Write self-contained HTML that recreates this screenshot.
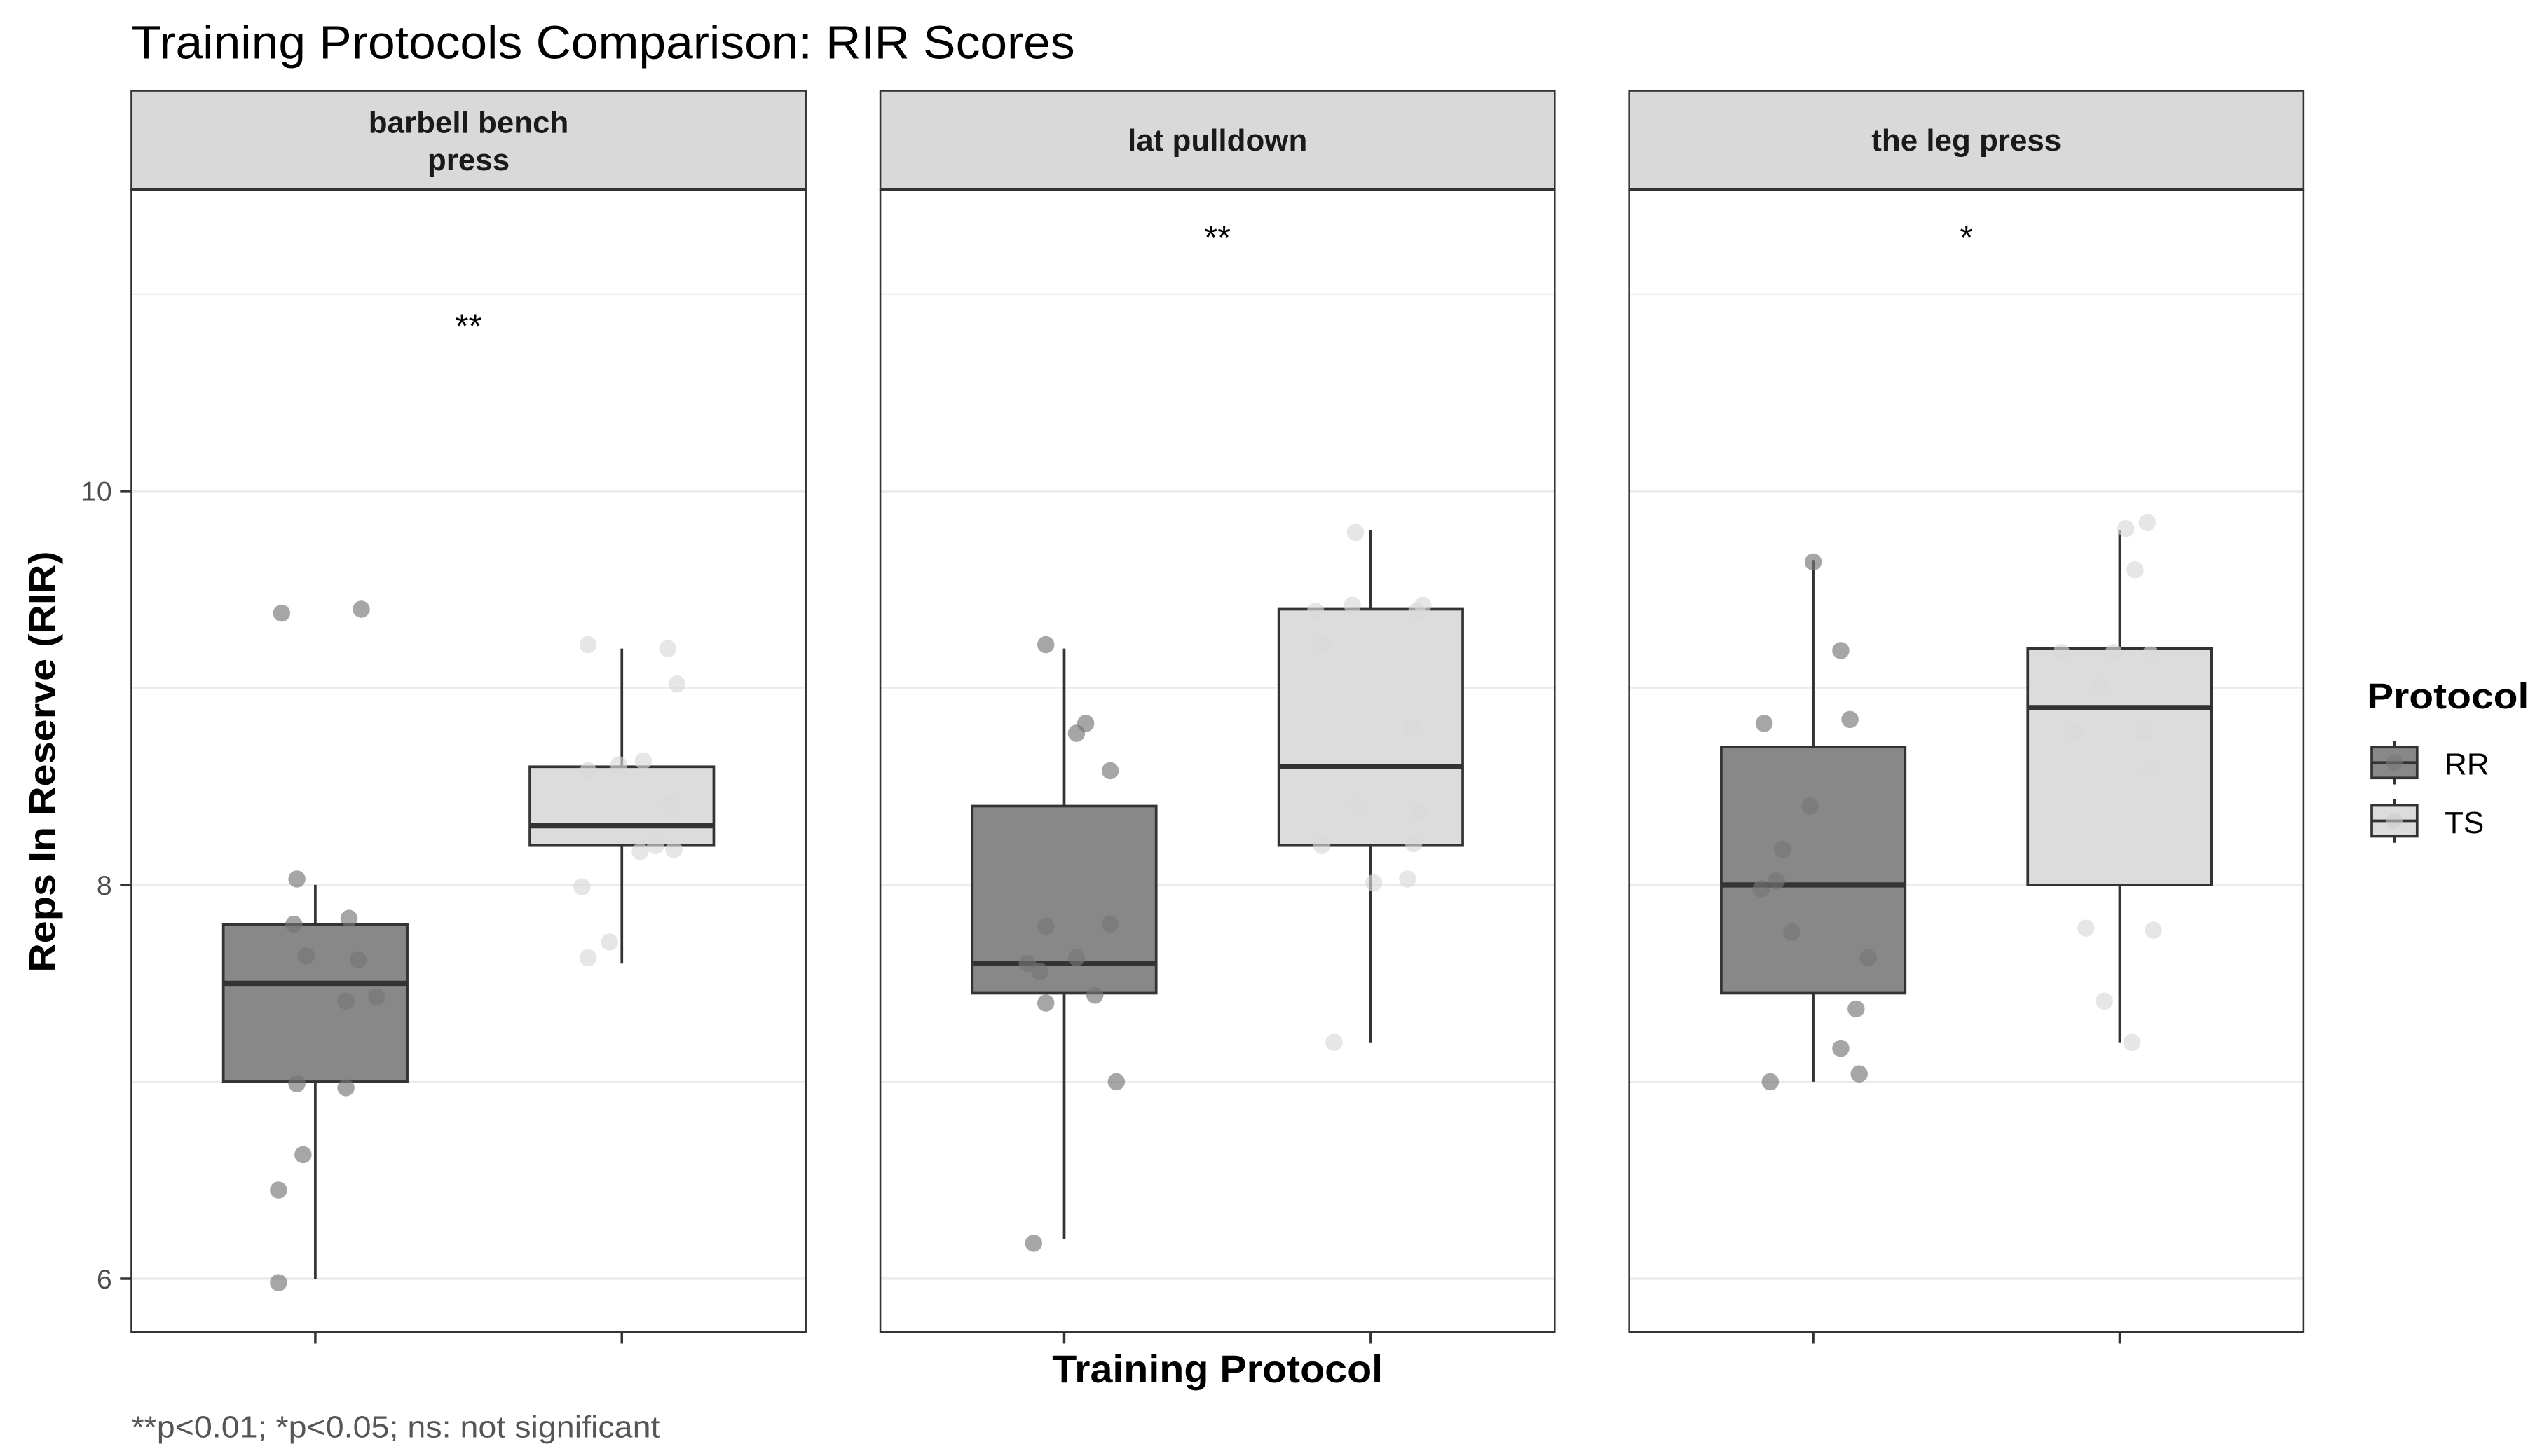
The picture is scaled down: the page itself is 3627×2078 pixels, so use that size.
<!DOCTYPE html>
<html><head><meta charset="utf-8"><style>
html,body{margin:0;padding:0;background:#fff;}
svg{display:block;font-family:"Liberation Sans",Arial,sans-serif;}
</style></head><body>
<svg id="chart" width="3627" height="2078" viewBox="0 0 1568 898.4" xmlns="http://www.w3.org/2000/svg">
<text x="81" y="36" font-size="29" textLength="582" lengthAdjust="spacingAndGlyphs" fill="#000">Training Protocols Comparison: RIR Scores</text>
<g id="panels"></g>
<text transform="translate(34,470) rotate(-90)" text-anchor="middle" font-size="23" font-weight="bold" textLength="260" lengthAdjust="spacingAndGlyphs" fill="#000">Reps In Reserve (RIR)</text>
<text x="751" y="853" text-anchor="middle" font-size="24" font-weight="bold" textLength="204" lengthAdjust="spacingAndGlyphs" fill="#000">Training Protocol</text>
<g>
<text x="1460" y="437" font-size="22" font-weight="bold" textLength="100" lengthAdjust="spacingAndGlyphs" fill="#000">Protocol</text>
<g>
<line x1="1477" y1="457" x2="1477" y2="484" stroke="#333" stroke-width="1.5"/>
<rect x="1463" y="461" width="28" height="19" fill="#888" stroke="#333" stroke-width="1.6"/>
<line x1="1463" y1="470.5" x2="1491" y2="470.5" stroke="#333" stroke-width="1.6"/>
<circle cx="1477" cy="470.5" r="5" fill="#777" opacity="0.6"/>
<text x="1508" y="478" font-size="19" fill="#000">RR</text>
</g>
<g>
<line x1="1477" y1="493" x2="1477" y2="520" stroke="#333" stroke-width="1.5"/>
<rect x="1463" y="497" width="28" height="19" fill="#dcdcdc" stroke="#333" stroke-width="1.6"/>
<line x1="1463" y1="506.5" x2="1491" y2="506.5" stroke="#333" stroke-width="1.6"/>
<circle cx="1477" cy="506.5" r="5" fill="#ccc" opacity="0.6"/>
<text x="1508" y="514" font-size="19" fill="#000">TS</text>
</g>
</g>
<text x="81" y="887" font-size="19" textLength="326" lengthAdjust="spacingAndGlyphs" fill="#555">**p&lt;0.01; *p&lt;0.05; ns: not significant</text>
</svg>
<script>
const exercises = ["barbell bench\npress", "lat pulldown", "the leg press"];
const groups = ["RR", "TS"];
const signif = ["**", "**", "*"];
const signifY = [10.88, 11.33, 11.33];
const yTicks = [6, 8, 10];
const yGrid = [6, 7, 8, 9, 10, 11];
// box stats per exercise per group: [lowWhisker, q1, median, q3, highWhisker]
const boxRR = [[6.0, 7.0, 7.5, 7.8, 8.0], [6.2, 7.45, 7.6, 8.4, 9.2], [7.0, 7.45, 8.0, 8.7, 9.65]];
const boxTS = [[7.6, 8.2, 8.3, 8.6, 9.2], [7.2, 8.2, 8.6, 9.4, 9.8], [7.2, 8.0, 8.9, 9.2, 9.8]];
// points: values and jitter (category units)
const ptsRRy = [
 [9.38, 9.40, 8.03, 7.80, 7.83, 7.64, 7.62, 7.41, 7.43, 6.99, 6.97, 6.63, 6.45, 5.98],
 [9.22, 8.82, 8.77, 8.58, 7.79, 7.80, 7.60, 7.56, 7.63, 7.40, 7.44, 7.00, 6.18],
 [9.64, 9.19, 8.82, 8.84, 8.40, 8.18, 8.02, 7.98, 7.76, 7.63, 7.37, 7.17, 7.04, 7.00]];
const ptsRRj = [
 [-0.11, 0.15, -0.06, -0.07, 0.11, -0.03, 0.14, 0.10, 0.20, -0.06, 0.10, -0.04, -0.12, -0.12],
 [-0.06, 0.07, 0.04, 0.15, -0.06, 0.15, -0.12, -0.08, 0.04, -0.06, 0.10, 0.17, -0.10],
 [0.0, 0.09, -0.16, 0.12, -0.01, -0.10, -0.12, -0.17, -0.07, 0.18, 0.14, 0.09, 0.15, -0.14]];
const ptsTSy = [
 [9.22, 9.20, 9.02, 8.58, 8.61, 8.63, 8.42, 8.17, 8.20, 8.18, 7.99, 7.71, 7.63],
 [9.79, 9.39, 9.42, 9.22, 9.39, 9.42, 8.80, 8.40, 8.37, 8.20, 8.21, 8.01, 8.03, 7.20],
 [9.81, 9.84, 9.60, 9.18, 9.18, 9.17, 9.01, 8.78, 8.77, 8.59, 7.78, 7.77, 7.41, 7.20]];
const ptsTSj = [
 [-0.11, 0.15, 0.18, -0.11, -0.01, 0.07, 0.16, 0.06, 0.11, 0.17, -0.13, -0.04, -0.11],
 [-0.05, -0.18, -0.06, -0.16, 0.15, 0.17, 0.13, -0.04, 0.16, -0.16, 0.14, 0.01, 0.12, -0.12],
 [0.02, 0.09, 0.05, -0.19, -0.02, 0.10, -0.06, -0.15, 0.08, 0.10, -0.11, 0.11, -0.05, 0.04]];

const NS = "http://www.w3.org/2000/svg";
const panelLefts = [81, 543, 1005], panelW = 416, stripTop = 56, plotTop = 117, plotBot = 822;
function yS(v) { return 303 - (v - 10) * 121.5; }
function xS(left, cat) { return left + (cat + 0.6 - 1) * (panelW / 2.2); }
function mk(tag, attrs, parent) {
  const e = document.createElementNS(NS, tag);
  for (const k in attrs) e.setAttribute(k, attrs[k]);
  parent.appendChild(e); return e;
}
const root = document.getElementById("panels");
exercises.forEach((ex, p) => {
  const L = panelLefts[p];
  const g = mk("g", {}, root);
  
  
  mk("rect", {x: L, y: plotTop, width: panelW, height: plotBot - plotTop, fill: "#fff"}, g);
  yGrid.forEach(v => {
    const ln = mk("line", {x1: L, x2: L + panelW, y1: yS(v), y2: yS(v), stroke: "#ebebeb", "stroke-width": (v % 2 === 0) ? 1.6 : 0.9}, g);
    
    
  });
  const sets = [[boxRR[p], ptsRRy[p], ptsRRj[p], "#888", "#777"], [boxTS[p], ptsTSy[p], ptsTSj[p], "#dcdcdc", "#d8d8d8"]];
  sets.forEach((s, gi) => {
    const cx = xS(L, gi + 1), hw = (panelW / 2.2) * 0.3;
    const b = s[0];
    const bg = mk("g", {}, g);
    
    
    mk("line", {x1: cx, x2: cx, y1: yS(b[0]), y2: yS(b[1]), stroke: "#333", "stroke-width": 1.6}, bg);
    mk("line", {x1: cx, x2: cx, y1: yS(b[3]), y2: yS(b[4]), stroke: "#333", "stroke-width": 1.6}, bg);
    mk("rect", {x: cx - hw, y: yS(b[3]), width: hw * 2, height: yS(b[1]) - yS(b[3]), fill: s[3], stroke: "#333", "stroke-width": 1.6}, bg);
    mk("line", {x1: cx - hw, x2: cx + hw, y1: yS(b[2]), y2: yS(b[2]), stroke: "#333", "stroke-width": 3.2}, bg);
    s[1].forEach((v, i) => {
      const c = mk("circle", {cx: cx + s[2][i] * (panelW / 2.2), cy: yS(v), r: 5.3, fill: s[4], opacity: 0.65}, g);
      
      
    });
    const tk = mk("line", {x1: cx, x2: cx, y1: plotBot, y2: plotBot + 7, stroke: "#333", "stroke-width": 1.5}, g);
    
    
  });
  mk("rect", {x: L, y: plotTop, width: panelW, height: plotBot - plotTop, fill: "none", stroke: "#333", "stroke-width": 1.1}, g);
  const st = mk("rect", {x: L, y: stripTop, width: panelW, height: plotTop - stripTop, fill: "#d9d9d9", stroke: "#333", "stroke-width": 1.1}, g);
  
  
  mk("line", {x1: L, x2: L + panelW, y1: plotTop, y2: plotTop, stroke: "#333", "stroke-width": 2}, g);
  const lines = ex.split("\n");
  lines.forEach((t, i) => {
    const tx = mk("text", {x: L + panelW / 2, y: (lines.length === 2 ? 82 : 93) + i * 23, "text-anchor": "middle", "font-size": 19, "font-weight": "bold", fill: "#1a1a1a"}, g);
    tx.textContent = t;
    
    
  });
  const sg = mk("text", {x: L + panelW / 2, y: yS(signifY[p]) + 12, "text-anchor": "middle", "font-size": 21, fill: "#000"}, g);
  sg.textContent = signif[p];
  
  
  if (p === 0) {
    yTicks.forEach(v => {
      const t = mk("line", {x1: L - 7, x2: L, y1: yS(v), y2: yS(v), stroke: "#333", "stroke-width": 1.5}, g);
      
      
      const lb = mk("text", {x: L - 12, y: yS(v) + 6, "text-anchor": "end", "font-size": 17, fill: "#4d4d4d"}, g);
      lb.textContent = v;
      
      
    });
  }
});
</script>
</body></html>
